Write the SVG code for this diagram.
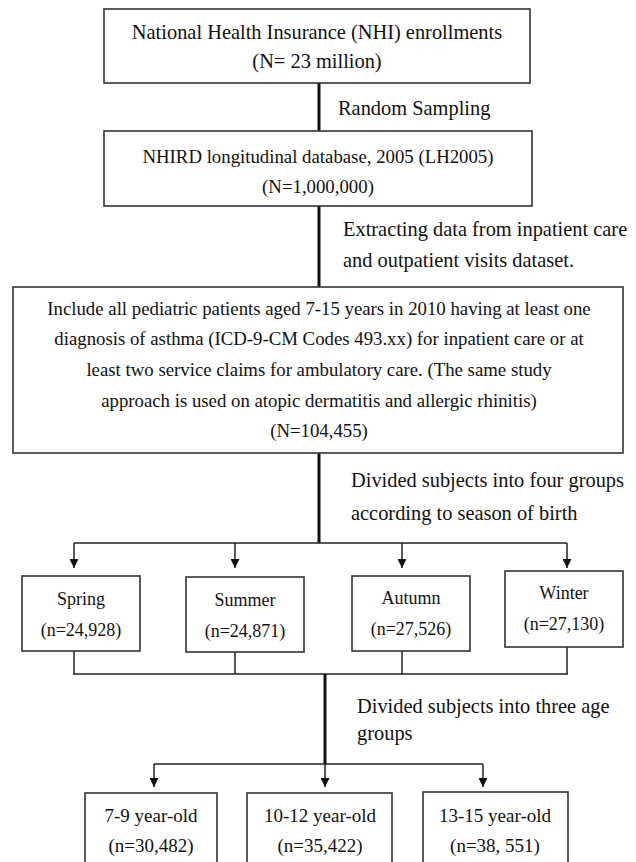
<svg xmlns="http://www.w3.org/2000/svg" width="636" height="862" viewBox="0 0 636 862">
<style>
.box{fill:#fff;stroke:#333;stroke-width:1.6}
text{font-family:"Liberation Serif","Times New Roman",serif;fill:#111}
.c{text-anchor:middle}
.lbl{font-size:20.4px}
.thick{stroke:#111;stroke-width:3;fill:none}
.thin{stroke:#222;stroke-width:1.5;fill:none}
</style>
<defs>
<marker id="ah" viewBox="0 0 10 10" refX="10" refY="5" markerWidth="9" markerHeight="9" markerUnits="userSpaceOnUse" orient="auto">
<path d="M0,0 L10,5 L0,10 z" fill="#111"/>
</marker>
</defs>
<rect width="636" height="862" fill="#fff"/>
<g id="connectors">
<line class="thick" x1="319" y1="83" x2="319" y2="131"/>
<line class="thick" x1="319" y1="206" x2="319" y2="287"/>
<line class="thick" x1="319" y1="453" x2="319" y2="543"/>
<polyline class="thin" points="74,543 567,543"/>
<line class="thin" x1="74" y1="543" x2="74" y2="568" marker-end="url(#ah)"/>
<line class="thin" x1="235" y1="543" x2="235" y2="568" marker-end="url(#ah)"/>
<line class="thin" x1="402" y1="543" x2="402" y2="568" marker-end="url(#ah)"/>
<line class="thin" x1="567" y1="543" x2="567" y2="568" marker-end="url(#ah)"/>
<line class="thin" x1="74" y1="651" x2="74" y2="674"/>
<line class="thin" x1="235" y1="652" x2="235" y2="674"/>
<line class="thin" x1="402" y1="651" x2="402" y2="674"/>
<line class="thin" x1="567" y1="647" x2="567" y2="674"/>
<polyline class="thin" points="73,674 568,674"/>
<line class="thick" x1="325" y1="674" x2="325" y2="764"/>
<polyline class="thin" points="154,764 483,764"/>
<line class="thin" x1="154" y1="764" x2="154" y2="787" marker-end="url(#ah)"/>
<line class="thin" x1="325" y1="764" x2="325" y2="787" marker-end="url(#ah)"/>
<line class="thin" x1="483" y1="764" x2="483" y2="787" marker-end="url(#ah)"/>
<text class="lbl" x="338" y="115">Random Sampling</text>
<text class="lbl" x="343" y="236">Extracting data from inpatient care</text>
<text class="lbl" x="343" y="267">and outpatient visits dataset.</text>
<text class="lbl" x="351" y="487">Divided subjects into four groups</text>
<text class="lbl" x="351" y="520">according to season of birth</text>
<text class="lbl" x="357" y="713">Divided subjects into three age</text>
<text class="lbl" x="357" y="740">groups</text>
</g>
<g id="nhi">
<rect class="box" x="104" y="9" width="426" height="74"/>
<text class="c" x="317" y="39" font-size="20.4">National Health Insurance (NHI) enrollments</text>
<text class="c" x="317" y="68" font-size="20.4">(N= 23 million)</text>
</g>
<g id="nhird">
<rect class="box" x="104" y="131" width="428" height="75"/>
<text class="c" x="318" y="163" font-size="18.8">NHIRD longitudinal database, 2005 (LH2005)</text>
<text class="c" x="318" y="193" font-size="18.8">(N=1,000,000)</text>
</g>
<g id="include">
<rect class="box" x="13" y="287" width="610" height="166"/>
<text class="c" x="319" y="315" font-size="18.8">Include all pediatric patients aged 7-15 years in 2010 having at least one</text>
<text class="c" x="319" y="345" font-size="18.8">diagnosis of asthma (ICD-9-CM Codes 493.xx) for inpatient care or at</text>
<text class="c" x="319" y="376" font-size="18.8">least two service claims for ambulatory care. (The same study</text>
<text class="c" x="319" y="407" font-size="18.8">approach is used on atopic dermatitis and allergic rhinitis)</text>
<text class="c" x="319" y="437" font-size="18.8">(N=104,455)</text>
</g>
<g id="spring">
<rect class="box" x="22" y="576" width="118" height="75"/>
<text class="c" x="81" y="605" font-size="18">Spring</text>
<text class="c" x="81" y="636" font-size="18">(n=24,928)</text>
</g>
<g id="summer">
<rect class="box" x="186" y="577" width="118" height="75"/>
<text class="c" x="245" y="606" font-size="18">Summer</text>
<text class="c" x="245" y="637" font-size="18">(n=24,871)</text>
</g>
<g id="autumn">
<rect class="box" x="352" y="576" width="118" height="75"/>
<text class="c" x="411" y="604" font-size="18">Autumn</text>
<text class="c" x="411" y="635" font-size="18">(n=27,526)</text>
</g>
<g id="winter">
<rect class="box" x="505" y="571" width="118" height="76"/>
<text class="c" x="564" y="599" font-size="18">Winter</text>
<text class="c" x="564" y="630" font-size="18">(n=27,130)</text>
</g>
<g id="age79">
<rect class="box" x="85" y="793" width="132" height="80"/>
<text class="c" x="151" y="822" font-size="19">7-9 year-old</text>
<text class="c" x="151" y="852" font-size="19">(n=30,482)</text>
</g>
<g id="age1012">
<rect class="box" x="247" y="793" width="145" height="80"/>
<text class="c" x="320" y="822" font-size="19">10-12 year-old</text>
<text class="c" x="320" y="852" font-size="19">(n=35,422)</text>
</g>
<g id="age1315">
<rect class="box" x="423" y="792" width="145" height="81"/>
<text class="c" x="495" y="822" font-size="19">13-15 year-old</text>
<text class="c" x="495" y="852" font-size="19">(n=38, 551)</text>
</g>
</svg>
